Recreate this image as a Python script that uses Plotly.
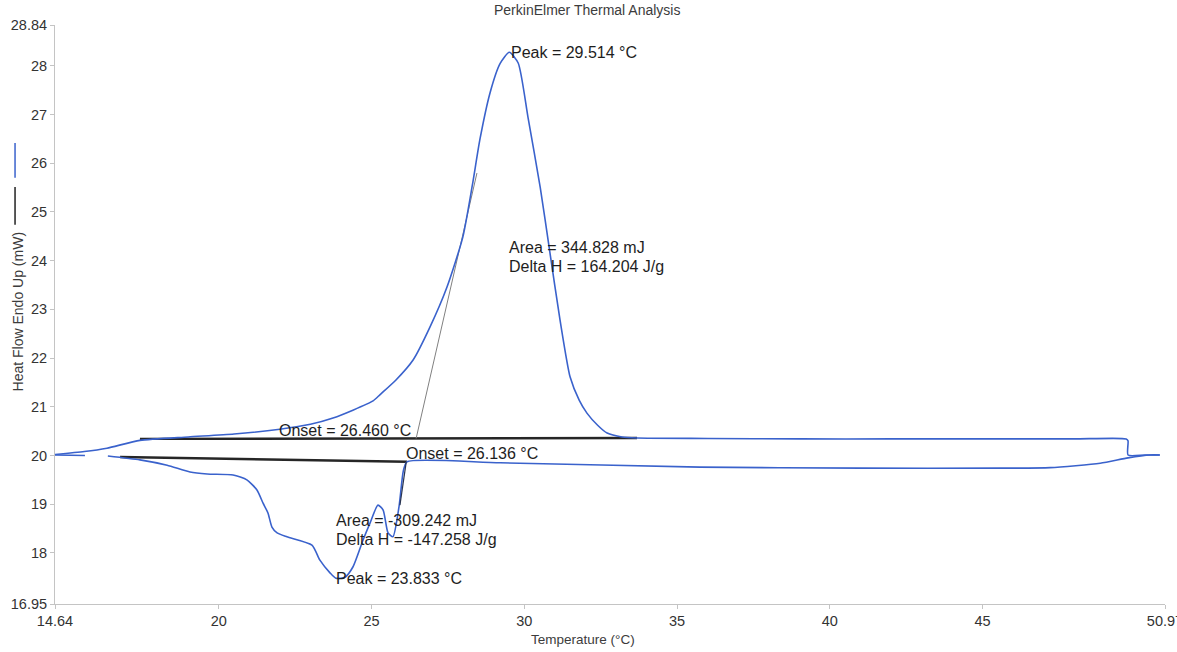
import plotly.graph_objects as go

# ---- data ----
heat_temp = [14.64, 15.60, 16.34, 17.42, 19.00, 20.50, 22.00, 23.00, 23.74, 24.39, 25.05, 25.28,
             25.80, 26.36, 26.90, 27.47, 27.99, 28.30, 28.55, 28.88, 29.21, 29.51, 29.80,
             30.12, 30.52, 30.84, 31.17, 31.50, 31.80, 32.05, 32.40, 32.71, 33.20, 33.69,
             36.00, 39.03, 42.00, 45.57, 48.00, 49.70, 49.76, 49.76, 50.30, 50.80]
heat_flow = [20.02, 20.08, 20.15, 20.31, 20.38, 20.44, 20.54, 20.64, 20.77, 20.93, 21.12, 21.25,
             21.55, 21.96, 22.62, 23.46, 24.49, 25.55, 26.50, 27.45, 28.05, 28.28, 28.06,
             26.95, 25.51, 24.16, 22.78, 21.61, 21.13, 20.87, 20.62, 20.46, 20.38, 20.36,
             20.35, 20.34, 20.34, 20.34, 20.34, 20.34, 20.30, 20.01, 20.01, 20.01]

cool_temp = [16.37, 17.42, 18.31, 19.06, 19.62, 20.47, 20.92, 21.25, 21.45, 21.61, 21.74, 21.91,
             22.23, 23.05, 23.31, 23.64, 23.83, 24.13, 24.39, 24.72, 24.95, 25.21, 25.38,
             25.54, 25.70, 25.90, 26.04, 26.16, 29.21, 35.75, 41.00, 45.57, 47.21, 48.85,
             49.76, 50.48, 50.80]
cool_flow = [19.99, 19.91, 19.80, 19.66, 19.62, 19.60, 19.50, 19.29, 19.02, 18.82, 18.53, 18.41,
             18.33, 18.16, 17.85, 17.59, 17.48, 17.50, 17.71, 18.26, 18.61, 18.98, 18.88,
             18.41, 18.33, 18.95, 19.68, 19.87, 19.85, 19.76, 19.74, 19.74, 19.75, 19.84,
             19.95, 20.01, 20.01]

stub_temp = [14.64, 15.62]
stub_flow = [20.01, 20.00]

heat_base_temp = [17.42, 33.69]
heat_base_flow = [20.34, 20.36]
cool_base_temp = [16.77, 26.16]
cool_base_flow = [19.97, 19.87]

heat_tangent_temp = [26.46, 28.45]
heat_tangent_flow = [20.35, 25.80]
cool_tangent_temp = [26.136, 25.93]
cool_tangent_flow = [19.87, 18.98]

x_ticks = [14.64, 20, 25, 30, 35, 40, 45, 50.97]
y_ticks = [16.95, 18, 19, 20, 21, 22, 23, 24, 25, 26, 27, 28, 28.84]

labels = ["Peak = 29.514 °C", "Area = 344.828 mJ", "Delta H = 164.204 J/g",
          "Onset = 26.460 °C", "Onset = 26.136 °C", "Area = -309.242 mJ",
          "Delta H = -147.258 J/g", "Peak = 23.833 °C"]
label_temp = [29.50, 29.43, 29.43, 21.90, 26.06, 23.77, 23.77, 23.77]
label_flow = [28.28, 24.28, 23.89, 20.52, 20.05, 18.67, 18.28, 17.48]

BLUE = "#3a62cc"
FONT = "Liberation Sans, Arial, sans-serif"

fig = go.Figure()
line_kw = dict(mode="lines", hoverinfo="skip", showlegend=False)
fig.add_trace(go.Scatter(x=heat_base_temp, y=heat_base_flow, line=dict(color="#262626", width=2.4), **line_kw))
fig.add_trace(go.Scatter(x=cool_base_temp, y=cool_base_flow, line=dict(color="#262626", width=2.4), **line_kw))
fig.add_trace(go.Scatter(x=heat_tangent_temp, y=heat_tangent_flow, line=dict(color="#808080", width=1), **line_kw))
fig.add_trace(go.Scatter(x=heat_temp, y=heat_flow, line=dict(color=BLUE, width=1.6, shape="spline", smoothing=0.6), **line_kw))
fig.add_trace(go.Scatter(x=cool_temp, y=cool_flow, line=dict(color=BLUE, width=1.6, shape="spline", smoothing=0.6), **line_kw))
fig.add_trace(go.Scatter(x=stub_temp, y=stub_flow, line=dict(color=BLUE, width=1.6), **line_kw))
fig.add_trace(go.Scatter(x=cool_tangent_temp, y=cool_tangent_flow, line=dict(color="#2a3550", width=1.2), **line_kw))

for t, xx, yy in zip(labels, label_temp, label_flow):
    fig.add_annotation(x=xx, y=yy, text=t, showarrow=False, xanchor="left", yanchor="middle",
                       font=dict(family=FONT, size=16, color="#1e1e1e"))

# title, axis titles as annotations (positions in paper space)
fig.add_annotation(xref="paper", yref="paper", x=0.479, y=1.026, xanchor="center", yanchor="middle",
                   text="PerkinElmer Thermal Analysis", showarrow=False,
                   font=dict(family=FONT, size=14, color="#3c3c3c"))
fig.add_annotation(xref="paper", yref="paper", x=0.476, y=-0.062, xanchor="center", yanchor="middle",
                   text="Temperature (°C)", showarrow=False,
                   font=dict(family=FONT, size=13.5, color="#3c3c3c"))
fig.add_annotation(xref="paper", yref="paper", x=-0.0335, y=0.505, xanchor="center", yanchor="middle",
                   text="Heat Flow Endo Up (mW)", textangle=-90, showarrow=False,
                   font=dict(family=FONT, size=14, color="#3c3c3c"))

# legend-like marks beside the y title
fig.add_shape(type="line", xref="paper", yref="paper", x0=-0.036, x1=-0.036, y0=0.736, y1=0.796,
              line=dict(color=BLUE, width=1.5))
fig.add_shape(type="line", xref="paper", yref="paper", x0=-0.036, x1=-0.036, y0=0.655, y1=0.720,
              line=dict(color="#222222", width=1.5))

axis_common = dict(showgrid=False, zeroline=False, showline=True, linecolor="#c4c4c4", linewidth=1,
                   ticks="outside", ticklen=4, tickcolor="#c4c4c4", ticklabeloverflow="allow",
                   automargin=False, tickfont=dict(family=FONT, size=14.5, color="#333333"))
fig.update_xaxes(range=[14.64, 50.97], tickvals=x_ticks, ticktext=[str(v) for v in x_ticks], **axis_common)
fig.update_yaxes(range=[16.95, 28.84], tickvals=y_ticks, ticktext=[str(v) for v in y_ticks], **axis_common)

fig.update_layout(width=1177, height=652, margin=dict(l=55, r=12, t=25, b=48, autoexpand=False),
                  paper_bgcolor="white", plot_bgcolor="white", showlegend=False)

# remove the default page margin so the figure sits at the window origin
fig.write_html("out.html", config={"displayModeBar": False},
               post_script="document.body.style.margin='0';document.body.style.overflow='hidden';")
